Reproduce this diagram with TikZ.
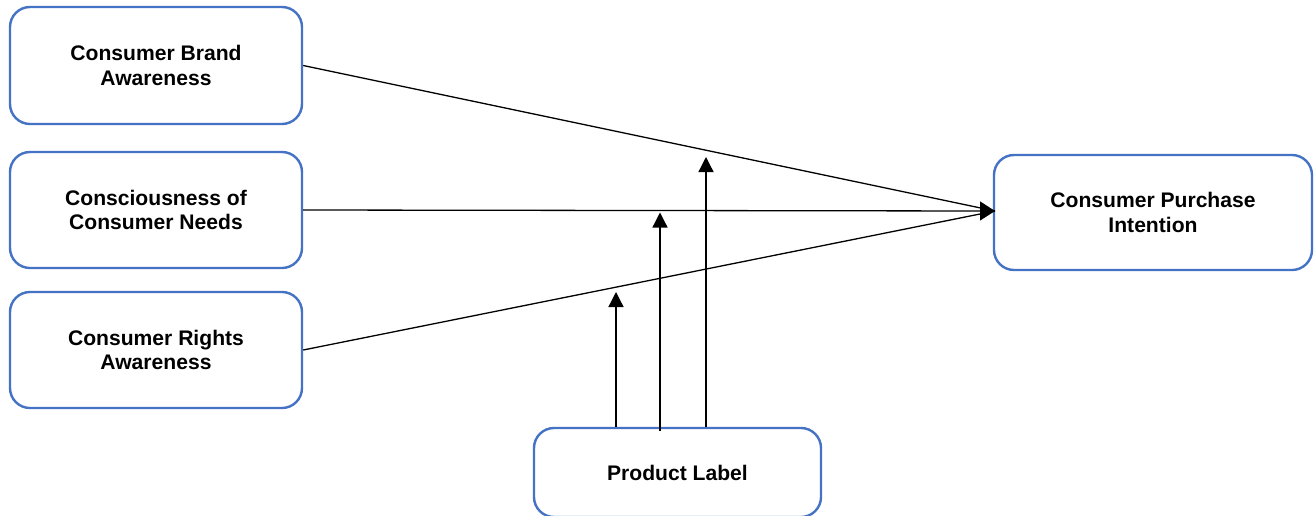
\documentclass[tikz,border=0pt]{standalone}
\usepackage{fontspec}
\setmainfont{Liberation Sans}
\usetikzlibrary{arrows.meta}
\definecolor{boxblue}{HTML}{4472C4}
\begin{document}
\begin{tikzpicture}[x=1pt,y=-1pt,
  box/.style={draw=boxblue,line width=2.4pt,rounded corners=20pt,align=center,
    font=\fontsize{21.1}{24.5}\selectfont\bfseries,inner sep=0pt},
  conn/.style={line width=1.3pt,draw=black},
  harrow/.style={conn,-{Triangle[length=15pt,width=19pt]}},
  varrow/.style={conn,-{Triangle[length=15pt,width=15pt]}}]
\useasboundingbox (0,0) rectangle (1314,515);
\node[box,minimum width=292pt,minimum height=117pt] (b1) at (156,65.5) {Consumer Brand\\Awareness};
\node[box,minimum width=292pt,minimum height=116pt] (b2) at (156,210) {Consciousness of\\Consumer Needs};
\node[box,minimum width=292pt,minimum height=116pt] (b3) at (156,350) {Consumer Rights\\Awareness};
\node[box,minimum width=318pt,minimum height=115pt] (pi) at (1153,212.5) {Consumer Purchase\\Intention};
\node[box,minimum width=287pt,minimum height=89pt] (pl) at (677.5,472.5) {Product Label};
\coordinate (t) at (995,211);
\draw[conn] (b1.east) -- (t);
\draw[conn] (b3.east) -- (t);
\draw[harrow] (b2.east) -- (t);
\coordinate (m1) at (616,292);
\coordinate (m2) at (660,212.5);
\coordinate (m3) at (706,157);
\draw[varrow] (pl.north -| m1) -- (m1);
\draw[varrow] ([yshift=-4pt]pl.north -| m2) -- (m2);
\draw[varrow] (pl.north -| m3) -- (m3);
\end{tikzpicture}
\end{document}
